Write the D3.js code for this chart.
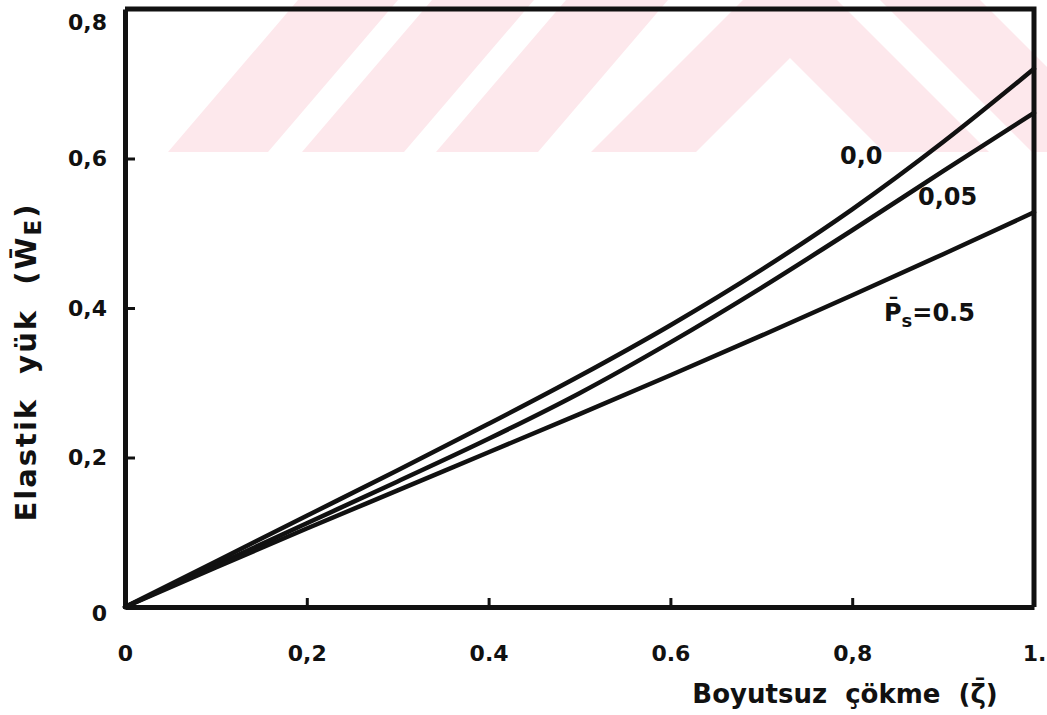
<!DOCTYPE html>
<html>
<head>
<meta charset="utf-8">
<script src="https://cdn.jsdelivr.net/npm/d3@7"></script>
<style>
  body { margin: 0; background: #fff; }
  text { font-family: "DejaVu Sans", sans-serif; font-weight: bold; fill: #111; }
</style>
</head>
<body>
<svg id="chart" width="1047" height="715"></svg>
<script>
// Dimensionless deflection (zeta) and elastic load curves for each Ps
const zeta = [0, 0.1, 0.2, 0.3, 0.4, 0.5, 0.6, 0.7, 0.8, 0.9, 1.0];
const loadPs00 = [0, 0.061, 0.122, 0.183, 0.245, 0.309, 0.377, 0.451, 0.532, 0.622, 0.72];
const loadPs005 = [0, 0.056, 0.112, 0.168, 0.225, 0.286, 0.354, 0.427, 0.504, 0.583, 0.661];
const loadPs05 = [0, 0.053, 0.105, 0.156, 0.207, 0.258, 0.31, 0.363, 0.417, 0.472, 0.528];
const seriesNames = ["0,0", "0,05", "Ps=0.5"];

const xTickValues = [0, 0.2, 0.4, 0.6, 0.8, 1];
const xTickLabels = ["0", "0,2", "0.4", "0.6", "0,8", "1."];
const yTickValues = [0, 0.2, 0.4, 0.6, 0.8];
const yTickLabels = ["0", "0,2", "0,4", "0,6", "0,8"];

const svg = d3.select("#chart");

// faint watermark in the background (decoration only)
const wm = svg.append("g").attr("fill", "#fde8ec");
[[168, 268], [302, 404], [436, 538]].forEach(([a, b]) => {
    wm.append("polygon").attr("points", `${a},152 ${b},152 ${b + 130},0 ${a + 130},0`);
});
wm.append("polygon").attr("points", "591,152 696,152 790,58 884,152 989,152 837,0 743,0");
wm.append("polygon").attr("points", "880,0 980,0 1047,67 1047,152 1032,152");

// Scales
const x = d3.scaleLinear().domain([0, 1]).range([125, 1034]);
const y = d3.scaleLinear().domain([0, 0.8]).range([607, 9]);

// Frame (top and right)
svg.append("path")
    .attr("d", `M${x(0)},${y(0.8)}H${x(1)}V${y(0)}`)
    .attr("fill", "none")
    .attr("stroke", "#111")
    .attr("stroke-width", 5);

// Axes
const xAxis = svg.append("g")
    .attr("transform", `translate(0,${y(0)})`)
    .call(d3.axisBottom(x)
        .tickValues(xTickValues)
        .tickSize(-9)
        .tickSizeOuter(0)
        .tickPadding(38)
        .tickFormat((d, i) => xTickLabels[i]));

const yAxis = svg.append("g")
    .attr("transform", `translate(${x(0)},0)`)
    .call(d3.axisLeft(y)
        .tickValues(yTickValues)
        .tickSize(-10)
        .tickSizeOuter(0)
        .tickPadding(18)
        .tickFormat((d, i) => yTickLabels[i]));

[xAxis, yAxis].forEach(g => {
    g.select(".domain").attr("stroke", "#111").attr("stroke-width", 5);
    g.selectAll(".tick line").attr("stroke", "#111").attr("stroke-width", 3);
    g.selectAll(".tick text")
        .style("font-size", "22px")
        .style("font-family", "DejaVu Sans, sans-serif")
        .style("font-weight", "bold")
        .attr("fill", "#111");
});
yAxis.selectAll(".tick text").filter(d => d === 0).attr("dy", "0.6em");
yAxis.selectAll(".tick text").filter(d => d === 0.8).attr("dy", "0.95em");

// Curves
const series = [loadPs00, loadPs005, loadPs05];
const line = d3.line()
    .x((d, i) => x(zeta[i]))
    .y(d => y(d))
    .curve(d3.curveMonotoneX);

svg.append("g").selectAll("path")
    .data(series)
    .join("path")
    .attr("d", d => line(d))
    .attr("fill", "none")
    .attr("stroke", "#111")
    .attr("stroke-width", 4.5)
    .attr("stroke-linecap", "round");

// Curve labels
const labelAt = [[0.81, 0.593], [0.905, 0.538], [0.835, 0.383]];
svg.append("text").attr("x", x(labelAt[0][0])).attr("y", y(labelAt[0][1]))
    .attr("text-anchor", "middle").style("font-size", "24px").text(seriesNames[0]);
svg.append("text").attr("x", x(labelAt[1][0])).attr("y", y(labelAt[1][1]))
    .attr("text-anchor", "middle").style("font-size", "24px").text(seriesNames[1]);
const psLabel = svg.append("text").attr("x", x(labelAt[2][0])).attr("y", y(labelAt[2][1]))
    .style("font-size", "24px");
psLabel.append("tspan").text("P\u0304");
psLabel.append("tspan").attr("dy", 6).style("font-size", "18px").text("s");
psLabel.append("tspan").attr("dy", -6).text("=0.5");

// Axis titles
svg.append("text")
    .attr("x", 845).attr("y", 703)
    .attr("text-anchor", "middle")
    .style("font-size", "26px")
    .style("white-space", "pre")
    .text("Boyutsuz  çökme  (ζ\u0304)");

const yTitle = svg.append("text")
    .attr("transform", "translate(36,362) rotate(-90)")
    .attr("text-anchor", "middle")
    .style("font-size", "29px")
    .style("letter-spacing", "2px")
    .style("white-space", "pre");
yTitle.append("tspan").text("Elastik  yük  (W\u0304");
yTitle.append("tspan").attr("dy", 5).style("font-size", "23px").text("E");
yTitle.append("tspan").attr("dy", -5).text(")");
</script>
</body>
</html>
